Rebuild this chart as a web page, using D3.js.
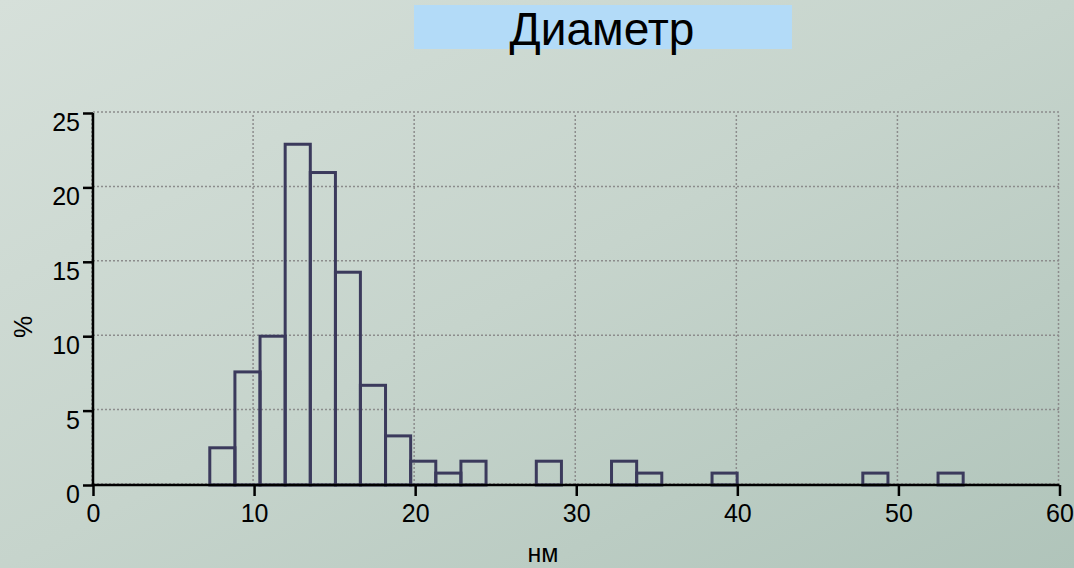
<!DOCTYPE html>
<html><head><meta charset="utf-8">
<script src="https://cdn.jsdelivr.net/npm/d3@7"></script>
<style>html,body{margin:0;padding:0;overflow:hidden;}svg{display:block;font-family:"Liberation Sans",Arial,sans-serif;}</style>
</head><body>
<script>
const title = "Диаметр";
const xLabel = "нм";
const yLabel = "%";
const xTicks = [0, 10, 20, 30, 40, 50, 60];
const yTicks = [0, 5, 10, 15, 20, 25];
const binEdges = [7.25, 8.81, 10.37, 11.93, 13.49, 15.05, 16.60, 18.16, 19.72, 21.28, 22.84, 24.40, 25.96, 27.52, 29.08, 30.64, 32.19, 33.75, 35.31, 36.87, 38.43, 39.99, 41.55, 43.11, 44.67, 46.23, 47.79, 49.35, 50.90, 52.46, 54.02];
const binValues = [2.5, 7.6, 10.0, 22.9, 21.0, 14.3, 6.7, 3.3, 1.6, 0.8, 1.6, 0, 0, 1.6, 0, 0, 1.6, 0.8, 0, 0, 0.8, 0, 0, 0, 0, 0, 0.8, 0, 0, 0.8];

const W = 1074, H = 568;
const svg = d3.select("body").append("svg").attr("width", W).attr("height", H);
const defs = svg.append("defs");
const g = defs.append("linearGradient").attr("id","bg").attr("x1","0").attr("y1","0").attr("x2","1").attr("y2","1");
g.append("stop").attr("offset","0").attr("stop-color","#d6e0da");
g.append("stop").attr("offset","0.5").attr("stop-color","#c6d4cc");
g.append("stop").attr("offset","1").attr("stop-color","#b0c4ba");
svg.append("rect").attr("width",W).attr("height",H).attr("fill","url(#bg)");

const x = d3.scaleLinear().domain([0,60]).range([93, 1059.5]);
const y = d3.scaleLinear().domain([0,25]).range([485, 113]);

// title
svg.append("rect").attr("x",414).attr("y",5).attr("width",378).attr("height",44).attr("fill","#b3dbf8");
svg.append("text").attr("x",602).attr("y",45).attr("text-anchor","middle").attr("font-size",46).attr("fill","#000").text(title);

// grid
const grid = svg.append("g").attr("stroke","#8c8c8c").attr("stroke-width",1.5).attr("stroke-dasharray","2,2");
yTicks.forEach(t => grid.append("line").attr("x1",x(0)).attr("x2",x(60)).attr("y1",y(t)-1).attr("y2",y(t)-1));
xTicks.forEach(t => grid.append("line").attr("x1",x(t)-1).attr("x2",x(t)-1).attr("y1",y(0)).attr("y2",y(25)));

// bars
const bins = binValues.map((v,i)=>({x0:binEdges[i], x1:binEdges[i+1], v})).filter(d=>d.v>0);
svg.append("g").selectAll("rect").data(bins).join("rect")
  .attr("x", d=>x(d.x0)).attr("width", d=>x(d.x1)-x(d.x0))
  .attr("y", d=>y(d.v)).attr("height", d=>y(0)-y(d.v))
  .attr("fill","none").attr("stroke","#3b3a5c").attr("stroke-width",3);

// axes
const xAxis = svg.append("g").attr("transform",`translate(0,${y(0)})`)
  .call(d3.axisBottom(x).tickValues(xTicks).tickSize(11).tickPadding(8).tickFormat(d3.format("d")));
const yAxis = svg.append("g").attr("transform",`translate(${x(0)},0)`)
  .call(d3.axisLeft(y).tickValues(yTicks).tickSize(10).tickPadding(3).tickFormat(d3.format("d")));
[xAxis,yAxis].forEach(a=>{
  a.select(".domain").attr("stroke","#000").attr("stroke-width",2.5);
  a.selectAll(".tick line").attr("stroke","#000").attr("stroke-width",2.5);
  a.selectAll(".tick text").attr("fill","#000").attr("font-size",25).attr("font-family","Liberation Sans, Arial, sans-serif");
});
xAxis.select(".domain").attr("d",`M${x(0)},0H${x(60)}`);
yAxis.select(".domain").attr("d",`M0,${y(0)}V${y(25)}`);
yAxis.selectAll(".tick text").attr("dy","0.7em");

svg.append("text").attr("x",543).attr("y",562).attr("text-anchor","middle").attr("font-size",25).attr("fill","#000").text(xLabel);
svg.append("text").attr("transform","translate(32,327) rotate(-90)").attr("text-anchor","middle").attr("font-size",25).attr("fill","#000").text(yLabel);
</script>
</body></html>
